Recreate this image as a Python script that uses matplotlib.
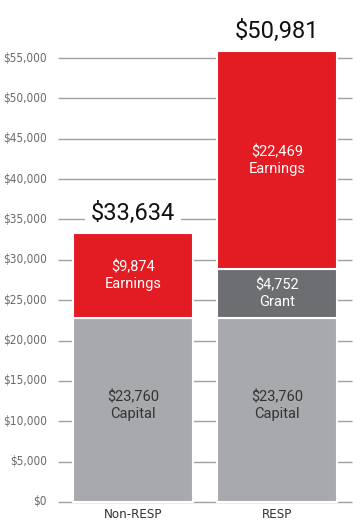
import matplotlib
matplotlib.use('Agg')
import matplotlib.pyplot as plt
from matplotlib import font_manager

# data
categories = ['Non-RESP', 'RESP']
capital = [23760, 23760]
grant = [0, 4752]
earnings = [9874, 22469]
totals = [33634, 50981]
# segment heights as drawn in the picture (the source art is not to scale)
capital_drawn = [22800, 22800]
grant_drawn = [0, 6050]
earnings_drawn = [10550, 27000]
yticks = list(range(0, 55001, 5000))

red = '#e31b23'
dark_gray = '#6d6e71'
light_gray = '#a7a9ac'
grid_gray = '#a0a0a0'

# pick a narrow face for the axis labels if one is around
narrow = font_manager.FontProperties(family='DejaVu Sans', stretch='condensed')
found = font_manager.findfont(narrow)
print(found)
has_condensed = 'ondensed' in found
tick_size = 8.5 if has_condensed else 7.2
cat_size = 9.5 if has_condensed else 8.5
label_font = ['Roboto', 'DejaVu Sans']

fig = plt.figure(figsize=(3.6, 5.31), dpi=100)
ax = fig.add_axes([0, 0, 1, 1])
ax.set_xlim(-0.924, 1.576)
ax.set_ylim(-3593, 62190)
ax.axis('off')

# grid lines with tick labels
ax.hlines(yticks, -0.521, 1.521, color=grid_gray, lw=1.0, zorder=1)
for t in yticks:
    ax.text(-0.6, t, '${:,}'.format(t), ha='right', va='center',
            fontproperties=narrow, fontsize=tick_size, color='#6a6a6a')

x = list(range(len(categories)))
w = 0.833
ax.bar(x, capital_drawn, w, color=light_gray, edgecolor='white', lw=1.5, zorder=2)
ax.bar(x, grant_drawn, w, bottom=capital_drawn, color=dark_gray,
       edgecolor='white', lw=1.5, zorder=2)
bottoms = [c + g for c, g in zip(capital_drawn, grant_drawn)]
ax.bar(x, earnings_drawn, w, bottom=bottoms, color=red,
       edgecolor='white', lw=1.5, zorder=2)

for i in x:
    # capital
    ax.text(i, capital_drawn[i] / 2 + 500, '${:,}\nCapital'.format(capital[i]),
            ha='center', va='center', fontsize=10.5, color='#333333',
            family=label_font, linespacing=1.25, zorder=3)
    if grant[i]:
        ax.text(i, capital_drawn[i] + grant_drawn[i] / 2,
                '${:,}\nGrant'.format(grant[i]), ha='center', va='center',
                fontsize=10.5, color='white', family=label_font,
                linespacing=1.25, zorder=3)
    ax.text(i, bottoms[i] + earnings_drawn[i] / 2,
            '${:,}\nEarnings'.format(earnings[i]), ha='center', va='center',
            fontsize=10.5, color='white', family=label_font,
            linespacing=1.25, zorder=3)
    top = bottoms[i] + earnings_drawn[i]
    ax.annotate('${:,}'.format(totals[i]), (i, top), xytext=(0, 14),
                textcoords='offset points', ha='center', va='center',
                fontsize=17, color='#111111', family=label_font, zorder=3,
                bbox=dict(facecolor='white', edgecolor='none', pad=4))
    ax.text(i, -1600, categories[i], ha='center', va='center',
            fontproperties=narrow, fontsize=cat_size, color='#333333')

fig.savefig('out.png', dpi=100)
